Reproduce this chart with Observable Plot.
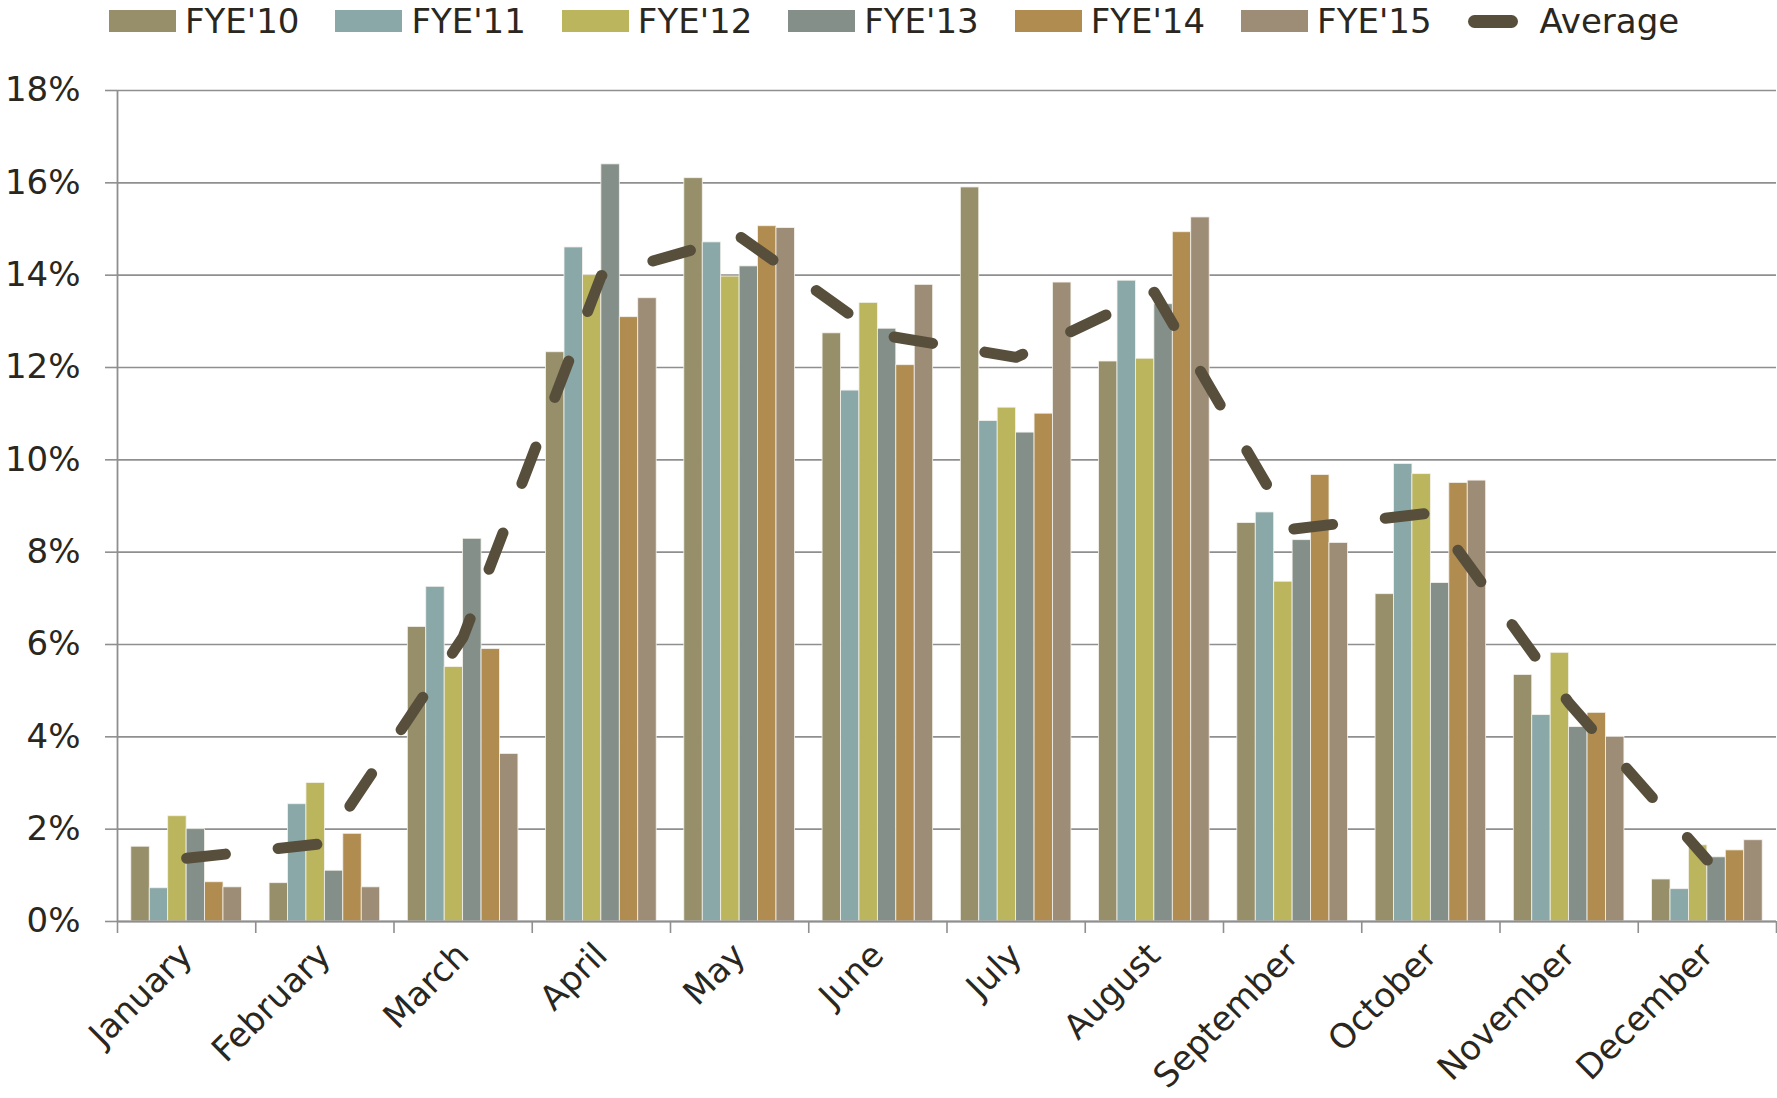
<!DOCTYPE html>
<html><head><meta charset="utf-8">
<script src="https://cdn.jsdelivr.net/npm/d3@7"></script>
<script src="https://cdn.jsdelivr.net/npm/@observablehq/plot@0.6"></script>
<style>
html,body{margin:0;padding:0;background:#fff;overflow:hidden;}
#legend{height:48px;display:flex;align-items:flex-start;padding-left:109px;font-family:"DejaVu Sans",sans-serif;font-size:34px;color:#2a2620;box-sizing:border-box;padding-top:1px;}
.item{display:flex;align-items:center;margin-right:36px;white-space:nowrap;}
.sw{width:67px;height:22px;margin-right:9px;}
.ln{width:50px;height:13px;border-radius:7px;margin-right:22px;}
</style></head><body>
<div id="legend"></div>
<div id="chart"></div>
<script>
const months = ["January","February","March","April","May","June","July","August","September","October","November","December"];
const seriesNames = ["FYE'10","FYE'11","FYE'12","FYE'13","FYE'14","FYE'15"];
const seriesColors = ["#968F6A","#8AA8A8","#BBB55E","#848F89","#B08C50","#9D8C76"];
const fye10 = [1.62,0.83,6.38,12.33,16.10,12.74,15.90,12.13,8.63,7.09,5.34,0.91];
const fye11 = [0.72,2.54,7.25,14.60,14.71,11.50,10.84,13.88,8.86,9.91,4.47,0.70];
const fye12 = [2.28,3.00,5.51,14.00,13.97,13.40,11.13,12.19,7.36,9.69,5.82,1.65];
const fye13 = [2.00,1.10,8.29,16.40,14.19,12.84,10.59,13.37,8.26,7.33,4.21,1.39];
const fye14 = [0.85,1.90,5.90,13.09,15.06,12.05,11.00,14.93,9.67,9.50,4.52,1.54];
const fye15 = [0.74,0.74,3.63,13.50,15.02,13.79,13.84,15.25,8.20,9.55,4.00,1.76];
const average = [1.37,1.69,6.16,13.99,14.84,12.72,12.22,13.63,8.50,8.85,4.73,1.33];
const yTicks = [0,2,4,6,8,10,12,14,16,18];
const avgColor = "#574F3C";
const gridColor = "#8f8f8f";
const textColor = "#2a2620";

const seriesValues = [fye10,fye11,fye12,fye13,fye14,fye15];
const bars = months.flatMap((m,i)=>seriesNames.map((s,j)=>({month:m,i,j,series:s,value:seriesValues[j][i]})));
const avgData = months.map((m,i)=>({month:m,pos:i+0.5,value:average[i]}));
const groupStart = 0.1, groupWidth = 0.8, n = seriesNames.length;

// legend
const leg = document.getElementById("legend");
seriesNames.forEach((s,j)=>{
  const it=document.createElement("div");it.className="item";
  it.innerHTML=`<div class="sw" style="background:${seriesColors[j]}"></div><span>${s}</span>`;
  leg.appendChild(it);
});
{
  const it=document.createElement("div");it.className="item";
  it.innerHTML=`<div class="ln" style="background:${avgColor}"></div><span>Average</span>`;
  leg.appendChild(it);
}

const chart = Plot.plot({
  width:1777, height:1050,
  marginLeft:117, marginRight:1, marginTop:42, marginBottom:177,
  style:{fontFamily:"DejaVu Sans, sans-serif", fontSize:"34px", color:textColor, background:"#fff"},
  x:{domain:[0,12], axis:null, label:null},
  y:{domain:[0,18], axis:null, label:null},
  color:{domain:seriesNames, range:seriesColors},
  marks:[
    Plot.gridY({ticks:yTicks, stroke:gridColor, strokeOpacity:1, strokeWidth:1.6}),
    Plot.rectY(bars,{
      x1:d=>d.i+groupStart+d.j*groupWidth/n,
      x2:d=>d.i+groupStart+(d.j+1)*groupWidth/n,
      y:"value", fill:"series", stroke:"#f4f2ec", strokeWidth:0.8
    }),
    Plot.ruleX([0],{stroke:gridColor, strokeWidth:1.8}),
    Plot.ruleY([0],{stroke:gridColor, strokeWidth:1.8}),
    Plot.axisY({ticks:yTicks, tickFormat:d=>d+"%", tickSize:12, tickPadding:25, stroke:gridColor, strokeWidth:1.6, fill:textColor, fontSize:34, label:null}),
    Plot.axisX({ticks:d3.range(0,13), tickFormat:()=>"", tickSize:12, stroke:gridColor, strokeWidth:1.6, label:null}),
    Plot.axisX({ticks:d3.range(0.5,12,1), tickFormat:d=>months[Math.floor(d)], tickSize:0, tickPadding:28, tickRotate:-45, fill:textColor, fontSize:34, label:null}),
    Plot.line(avgData,{x:"pos", y:"value", stroke:avgColor, strokeWidth:11, strokeDasharray:"39,53", strokeLinecap:"round", strokeLinejoin:"round"})
  ]
});
document.getElementById("chart").appendChild(chart);
</script>
</body></html>
